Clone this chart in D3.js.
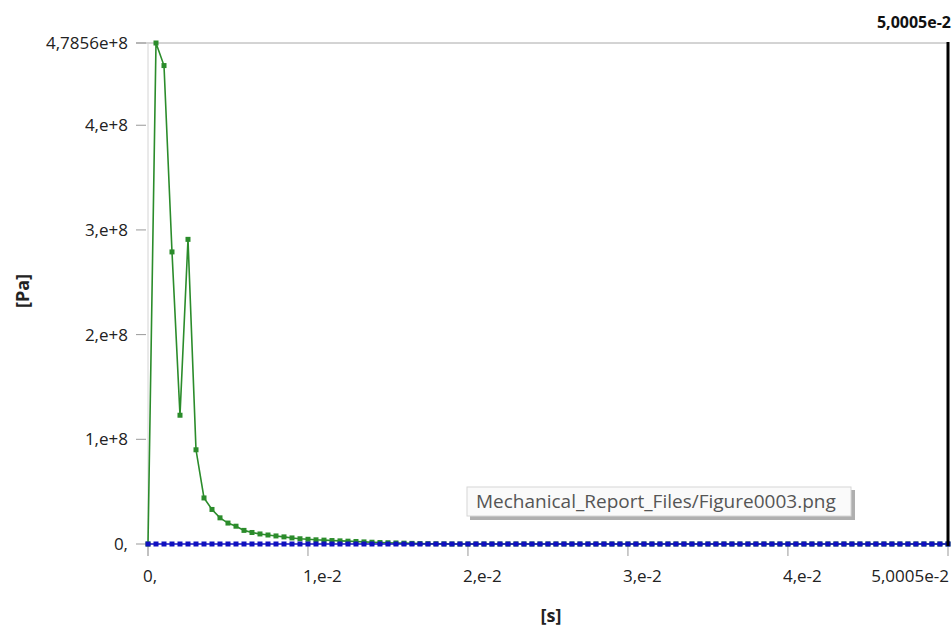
<!DOCTYPE html>
<html>
<head>
<meta charset="utf-8">
<script src="https://cdn.jsdelivr.net/npm/d3@7"></script>
<style>
  body { margin: 0; background: #fff; }
  svg text { font-family: "Open Sans", "Noto Sans", "DejaVu Sans", sans-serif; }
</style>
</head>
<body>
<div id="graph"></div>
<script>
// time step 0.0005 s, 101 samples up to 5.0005e-2
const TIMES = Array.from({length: 101}, (u, i) => i === 100 ? 0.050005 : i * 0.0005);

// green series (Pa); values after the listed ones are zero
const GREEN_VALUES = [
  0, 4.7856e8, 4.57e8, 2.79e8, 1.23e8, 2.91e8, 0.90e8, 0.44e8, 0.33e8, 0.25e8,
  0.20e8, 0.17e8, 0.13e8, 0.11e8, 0.096e8, 0.086e8, 0.077e8, 0.068e8, 0.058e8, 0.050e8,
  0.045e8, 0.040e8, 0.037e8, 0.033e8, 0.030e8, 0.027e8, 0.024e8, 0.020e8, 0.017e8, 0.014e8,
  0.012e8, 0.010e8, 0.008e8, 0.006e8, 0.004e8, 0.003e8, 0.002e8, 0.001e8
];
const BLUE_VALUES = TIMES.map(() => 0);

const Y_TICKS = [0, 1e8, 2e8, 3e8, 4e8, 4.7856e8];
const Y_LABELS = ["0,", "1,e+8", "2,e+8", "3,e+8", "4,e+8", "4,7856e+8"];
const X_TICKS = [0, 0.01, 0.02, 0.03, 0.04, 0.050005];
const X_LABELS = ["0,", "1,e-2", "2,e-2", "3,e-2", "4,e-2", "5,0005e-2"];

const W = 952, H = 627;
const x = d3.scaleLinear().domain([0, 0.050005]).range([148, 948]);
const y = d3.scaleLinear().domain([0, 4.7856e8]).range([544, 43]);

const svg = d3.select("#graph").append("svg").attr("width", W).attr("height", H);

// top grid line at max value
svg.append("line")
    .attr("x1", 136).attr("x2", x(0.050005))
    .attr("y1", y(4.7856e8)).attr("y2", y(4.7856e8))
    .style("stroke", "#a8a8a8").style("stroke-width", 1);

// y axis
svg.append("line")
    .attr("x1", x(0)).attr("x2", x(0)).attr("y1", y(4.7856e8)).attr("y2", y(0) + 12)
    .style("stroke", "#d4d4d4");
svg.selectAll(".ytick").data(Y_TICKS).enter().append("line")
    .attr("x1", 136).attr("x2", 146)
    .attr("y1", (d) => y(d)).attr("y2", (d) => y(d))
    .style("stroke", "#999");
svg.selectAll(".ylab").data(Y_TICKS).enter().append("text")
    .attr("x", 128).attr("y", (d) => y(d)).attr("dy", "0.35em")
    .style("text-anchor", "end").style("font-size", "17px").style("fill", "#222")
    .text((d, i) => Y_LABELS[i]);

// x axis
svg.selectAll(".xtick").data(X_TICKS).enter().append("line")
    .attr("x1", (d) => x(d)).attr("x2", (d) => x(d))
    .attr("y1", y(0)).attr("y2", y(0) + 12)
    .style("stroke", "#999");
svg.selectAll(".xlab").data(X_TICKS).enter().append("text")
    .attr("x", (d, i) => i === X_TICKS.length - 1 ? x(d) + 1 : x(d) - 5)
    .attr("y", 582)
    .style("text-anchor", (d, i) => i === X_TICKS.length - 1 ? "end" : "start")
    .style("font-size", "17px").style("fill", "#222")
    .text((d, i) => X_LABELS[i]);

// axis titles
svg.append("text")
    .attr("x", 551).attr("y", 622)
    .style("text-anchor", "middle").style("font-size", "18px").style("font-weight", "bold")
    .style("fill", "#222").text("[s]");
svg.append("text")
    .attr("transform", "translate(29,291) rotate(-90)")
    .style("text-anchor", "middle").style("font-size", "18px").style("font-weight", "bold")
    .style("fill", "#222").text("[Pa]");

// series
const green = TIMES.map((t, i) => ({time: t, val: i < GREEN_VALUES.length ? GREEN_VALUES[i] : 0}));
const blue = TIMES.map((t, i) => ({time: t, val: BLUE_VALUES[i]}));

const line = d3.line().x((d) => x(d.time)).y((d) => y(d.val));

const draw_series = (data, color) => {
  svg.append("path")
      .attr("d", line(data))
      .style("fill", "none").style("stroke", color).style("stroke-width", 1.6);
  svg.selectAll(null).data(data).enter().append("rect")
      .attr("x", (d) => x(d.time) - 2.5).attr("y", (d) => y(d.val) - 2.5)
      .attr("width", 5).attr("height", 5)
      .style("fill", color);
}
draw_series(green, "#2b8c2b");
draw_series(blue, "#1010c0");

// cursor line at end time
svg.append("line")
    .attr("x1", x(0.050005)).attr("x2", x(0.050005))
    .attr("y1", y(4.7856e8) - 1).attr("y2", y(0) + 2)
    .style("stroke", "#000").style("stroke-width", 3);
svg.append("text")
    .attr("x", 951).attr("y", 28)
    .style("text-anchor", "end").style("font-size", "16px").style("font-weight", "bold")
    .style("fill", "#111").text("5,0005e-2");

// file name tooltip
const tip = svg.append("g").attr("transform", "translate(467,487)");
tip.append("rect")
    .attr("x", 3).attr("y", 3).attr("width", 385).attr("height", 30)
    .style("fill", "#7a7a7a").style("opacity", 0.6);
tip.append("rect")
    .attr("x", 0).attr("y", 0).attr("width", 384).attr("height", 29)
    .style("fill", "#fafafa").style("stroke", "#d6d6d6");
tip.append("text")
    .attr("x", 9).attr("y", 21)
    .style("font-size", "19px").style("fill", "#555")
    .text("Mechanical_Report_Files/Figure0003.png");
</script>
</body>
</html>
